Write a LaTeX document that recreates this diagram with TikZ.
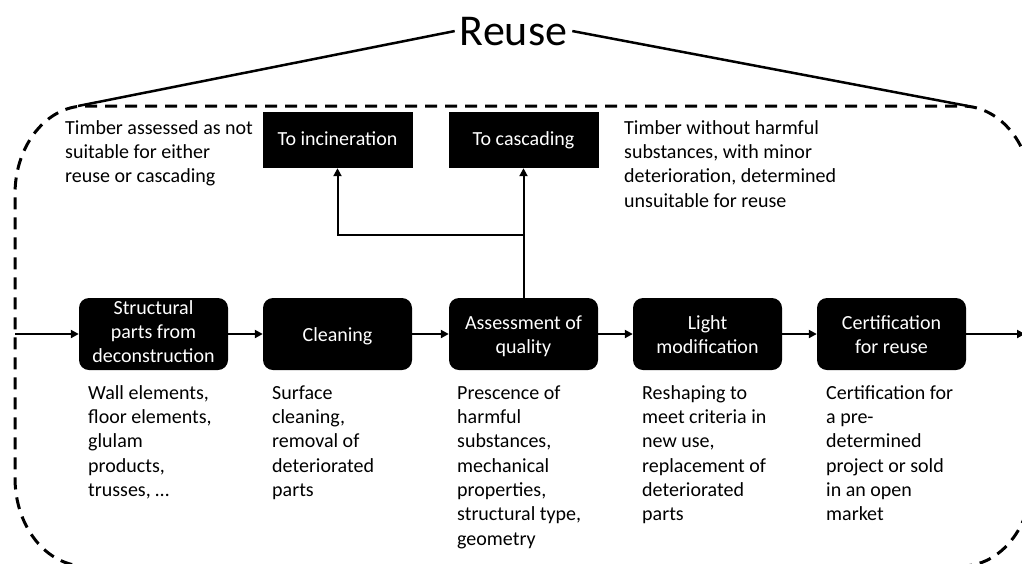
\documentclass[tikz,border=0pt]{standalone}
\usepackage{fontspec}
\setmainfont{Carlito}
\usetikzlibrary{arrows.meta}
\newcommand{\topstrut}{\rule{0pt}{22.8pt}}
\begin{document}
\begin{tikzpicture}[x=1pt,y=-1pt,
  >={Triangle[length=8pt,width=8pt]},
  conn/.style={line width=2pt,->},
  proc/.style={fill=black,rounded corners=10pt,minimum width=149pt,minimum height=72pt,text=white,align=center,font=\fontsize{20}{24}\selectfont,inner sep=0pt},
  dest/.style={fill=black,minimum width=150pt,minimum height=56pt,text=white,font=\fontsize{20}{24}\selectfont,inner sep=0pt,text height=14pt,text depth=4pt},
  desc/.style={anchor=north west,align=left,inner sep=0pt,font=\fontsize{20}{24.3}\selectfont},
  boundary/.style={line width=3pt,dash pattern=on 12pt off 8pt},
  titleline/.style={line width=2.5pt}
]
\useasboundingbox (0,0) rectangle (1022,563);
\clip (0,0) rectangle (1022,563);

% title
\node[anchor=base,font=\fontsize{44}{50}\selectfont,inner xsep=5pt,inner ysep=0pt] (reuse) at (513.5,45) {Reuse};
\coordinate (tl) at (78,106);
\coordinate (tr) at (968,106);
\draw[titleline] (reuse.west) -- (tl);
\draw[titleline] (reuse.east) -- (tr);

% dashed boundary
\draw[boundary] (85,106) -- (962,106)
  .. controls (1000.6,106) and (1032,145.4) .. (1032,194)
  -- (1032,478)
  .. controls (1032,526.6) and (1000.6,566) .. (962,566)
  -- (85,566)
  .. controls (46.4,566) and (15,526.6) .. (15,478)
  -- (15,194)
  .. controls (15,145.4) and (46.4,106) .. (85,106) -- cycle;

% process boxes
\node[proc] (b1) at (153.5,334) {\strut Structural\\parts from\\deconstruction\strut};
\node[proc] (b2) at (337.5,334) {\topstrut Cleaning\strut};
\node[proc] (b3) at (523.5,334) {\topstrut Assessment of\\quality\strut};
\node[proc] (b4) at (707.5,334) {\topstrut Light\\modification\strut};
\node[proc] (b5) at (891.5,334) {\topstrut Certification\\for reuse\strut};

% destination boxes
\node[dest] (incin) at (337.5,140) {To incineration};
\node[dest] (casc) at (523.5,140) {To cascading};

% connectors
\coordinate (in) at (15,334);
\coordinate (out) at (1025,334);
\draw[conn] (in) -- (b1.west);
\draw[conn] (b1) -- (b2);
\draw[conn] (b2) -- (b3);
\draw[conn] (b3) -- (b4);
\draw[conn] (b4) -- (b5);
\draw[conn] (b5.east) -- (out);
\draw[conn] (b3.north) -- (casc.south);
\path (b3.north) ++(0,-63) coordinate (br);
\draw[conn] (br) -| (incin.south);

% descriptions
\node[desc] (t1) at (65,117) {\strut Timber assessed as not\\suitable for either\\reuse or cascading};
\node[desc] (t2) at (624,117) {\strut Timber without harmful\\substances, with minor\\deterioration, determined\\unsuitable for reuse};

\node[desc] (d1) at (88,382) {\strut Wall elements,\\floor elements,\\glulam\\products,\\trusses, …};
\node[desc] (d2) at (272,382) {\strut Surface\\cleaning,\\removal of\\deteriorated\\parts};
\node[desc] (d3) at (457,382) {\strut Prescence of\\harmful\\substances,\\mechanical\\properties,\\structural type,\\geometry};
\node[desc] (d4) at (642,382) {\strut Reshaping to\\meet criteria in\\new use,\\replacement of\\deteriorated\\parts};
\node[desc] (d5) at (826,382) {\strut Certification for\\a pre-\\determined\\project or sold\\in an open\\market};
\end{tikzpicture}
\end{document}
